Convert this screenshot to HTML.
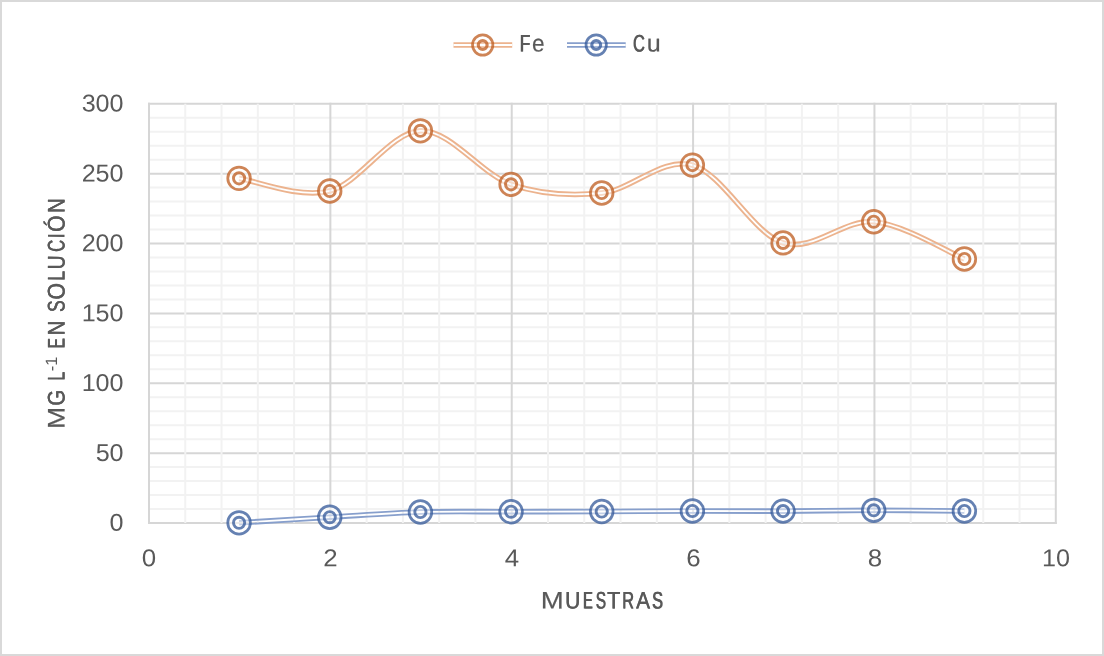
<!DOCTYPE html>
<html lang="es"><head><meta charset="utf-8"><title>Fe / Cu en solución</title>
<style>
html,body{margin:0;padding:0;background:#fff;}
body{width:1104px;height:656px;overflow:hidden;font-family:"Liberation Sans",sans-serif;}
svg{display:block;}
</style></head><body>
<svg width="1104" height="656" viewBox="0 0 1104 656">
<rect x="0" y="0" width="1104" height="656" fill="#fff"/>
<rect x="1" y="1" width="1102" height="654" fill="none" stroke="#d9d9d9" stroke-width="2"/>
<path d="M149.00,509.03H1055.80M149.00,495.05H1055.80M149.00,481.08H1055.80M149.00,467.10H1055.80M149.00,439.16H1055.80M149.00,425.18H1055.80M149.00,411.21H1055.80M149.00,397.23H1055.80M149.00,369.29H1055.80M149.00,355.31H1055.80M149.00,341.34H1055.80M149.00,327.36H1055.80M149.00,299.42H1055.80M149.00,285.44H1055.80M149.00,271.47H1055.80M149.00,257.49H1055.80M149.00,229.55H1055.80M149.00,215.57H1055.80M149.00,201.60H1055.80M149.00,187.62H1055.80M149.00,159.68H1055.80M149.00,145.70H1055.80M149.00,131.73H1055.80M149.00,117.75H1055.80" stroke="#f2f2f2" stroke-width="2" fill="none"/>
<path d="M148.00,523.00H1056.80M148.00,453.13H1056.80M148.00,383.26H1056.80M148.00,313.39H1056.80M148.00,243.52H1056.80M148.00,173.65H1056.80M148.00,103.78H1056.80" stroke="#d6d6d6" stroke-width="2" fill="none"/>
<path d="M185.27,103.78V523.00M221.54,103.78V523.00M257.82,103.78V523.00M294.09,103.78V523.00M366.63,103.78V523.00M402.90,103.78V523.00M439.18,103.78V523.00M475.45,103.78V523.00M547.99,103.78V523.00M584.26,103.78V523.00M620.54,103.78V523.00M656.81,103.78V523.00M729.35,103.78V523.00M765.62,103.78V523.00M801.90,103.78V523.00M838.17,103.78V523.00M910.71,103.78V523.00M946.98,103.78V523.00M983.26,103.78V523.00M1019.53,103.78V523.00" stroke="#f2f2f2" stroke-width="2" fill="none"/>
<path d="M149.00,102.78V524.00M330.36,102.78V524.00M511.72,102.78V524.00M693.08,102.78V524.00M874.44,102.78V524.00M1055.80,102.78V524.00" stroke="#d6d6d6" stroke-width="2" fill="none"/>
<mask id="m1" maskUnits="userSpaceOnUse" x="0" y="0" width="1104" height="656"><rect x="0" y="0" width="1104" height="656" fill="#fff"/><path d="M239.07,178.36 C254.18,180.46 299.52,198.91 329.74,190.98 C359.96,183.05 390.18,131.91 420.40,130.80 C450.62,129.70 480.84,173.98 511.07,184.35 C541.29,194.72 571.51,196.21 601.73,193.00 C631.95,189.79 662.17,156.78 692.39,165.10 C722.62,173.42 752.84,233.47 783.06,242.90 C813.28,252.33 843.50,219.02 873.72,221.70 C903.94,224.38 949.28,252.78 964.39,259.00" stroke="#000" stroke-width="1.8" fill="none" stroke-linejoin="round"/></mask><path d="M239.07,178.36 C254.18,180.46 299.52,198.91 329.74,190.98 C359.96,183.05 390.18,131.91 420.40,130.80 C450.62,129.70 480.84,173.98 511.07,184.35 C541.29,194.72 571.51,196.21 601.73,193.00 C631.95,189.79 662.17,156.78 692.39,165.10 C722.62,173.42 752.84,233.47 783.06,242.90 C813.28,252.33 843.50,219.02 873.72,221.70 C903.94,224.38 949.28,252.78 964.39,259.00" stroke="#ecb38e" stroke-width="5.6" fill="none" stroke-linecap="butt" stroke-linejoin="round" mask="url(#m1)"/>
<mask id="m2" maskUnits="userSpaceOnUse" x="0" y="0" width="1104" height="656"><rect x="0" y="0" width="1104" height="656" fill="#fff"/><path d="M239.07,522.80 C254.18,521.87 299.52,519.00 329.74,517.20 C359.96,515.40 390.18,512.92 420.40,512.00 C450.62,511.08 480.84,511.78 511.07,511.70 C541.29,511.62 571.51,511.62 601.73,511.50 C631.95,511.38 662.17,511.07 692.39,511.00 C722.62,510.93 752.84,511.22 783.06,511.10 C813.28,510.98 843.50,510.32 873.72,510.30 C903.94,510.28 949.28,510.88 964.39,511.00" stroke="#000" stroke-width="1.8" fill="none" stroke-linejoin="round"/></mask><path d="M239.07,522.80 C254.18,521.87 299.52,519.00 329.74,517.20 C359.96,515.40 390.18,512.92 420.40,512.00 C450.62,511.08 480.84,511.78 511.07,511.70 C541.29,511.62 571.51,511.62 601.73,511.50 C631.95,511.38 662.17,511.07 692.39,511.00 C722.62,510.93 752.84,511.22 783.06,511.10 C813.28,510.98 843.50,510.32 873.72,510.30 C903.94,510.28 949.28,510.88 964.39,511.00" stroke="#879fcc" stroke-width="5.6" fill="none" stroke-linecap="butt" stroke-linejoin="round" mask="url(#m2)"/>
<circle cx="239.07" cy="178.36" r="11.30" fill="#fff" fill-opacity="0.50" stroke="none"/><circle cx="239.07" cy="178.36" r="11.30" fill="none" stroke="#bd591b" stroke-opacity="0.74" stroke-width="2.75"/><circle cx="239.07" cy="178.36" r="5.60" fill="none" stroke="#bd591b" stroke-opacity="0.74" stroke-width="2.90"/>
<circle cx="329.74" cy="190.98" r="11.30" fill="#fff" fill-opacity="0.50" stroke="none"/><circle cx="329.74" cy="190.98" r="11.30" fill="none" stroke="#bd591b" stroke-opacity="0.74" stroke-width="2.75"/><circle cx="329.74" cy="190.98" r="5.60" fill="none" stroke="#bd591b" stroke-opacity="0.74" stroke-width="2.90"/>
<circle cx="420.40" cy="130.80" r="11.30" fill="#fff" fill-opacity="0.50" stroke="none"/><circle cx="420.40" cy="130.80" r="11.30" fill="none" stroke="#bd591b" stroke-opacity="0.74" stroke-width="2.75"/><circle cx="420.40" cy="130.80" r="5.60" fill="none" stroke="#bd591b" stroke-opacity="0.74" stroke-width="2.90"/>
<circle cx="511.07" cy="184.35" r="11.30" fill="#fff" fill-opacity="0.50" stroke="none"/><circle cx="511.07" cy="184.35" r="11.30" fill="none" stroke="#bd591b" stroke-opacity="0.74" stroke-width="2.75"/><circle cx="511.07" cy="184.35" r="5.60" fill="none" stroke="#bd591b" stroke-opacity="0.74" stroke-width="2.90"/>
<circle cx="601.73" cy="193.00" r="11.30" fill="#fff" fill-opacity="0.50" stroke="none"/><circle cx="601.73" cy="193.00" r="11.30" fill="none" stroke="#bd591b" stroke-opacity="0.74" stroke-width="2.75"/><circle cx="601.73" cy="193.00" r="5.60" fill="none" stroke="#bd591b" stroke-opacity="0.74" stroke-width="2.90"/>
<circle cx="692.39" cy="165.10" r="11.30" fill="#fff" fill-opacity="0.50" stroke="none"/><circle cx="692.39" cy="165.10" r="11.30" fill="none" stroke="#bd591b" stroke-opacity="0.74" stroke-width="2.75"/><circle cx="692.39" cy="165.10" r="5.60" fill="none" stroke="#bd591b" stroke-opacity="0.74" stroke-width="2.90"/>
<circle cx="783.06" cy="242.90" r="11.30" fill="#fff" fill-opacity="0.50" stroke="none"/><circle cx="783.06" cy="242.90" r="11.30" fill="none" stroke="#bd591b" stroke-opacity="0.74" stroke-width="2.75"/><circle cx="783.06" cy="242.90" r="5.60" fill="none" stroke="#bd591b" stroke-opacity="0.74" stroke-width="2.90"/>
<circle cx="873.72" cy="221.70" r="11.30" fill="#fff" fill-opacity="0.50" stroke="none"/><circle cx="873.72" cy="221.70" r="11.30" fill="none" stroke="#bd591b" stroke-opacity="0.74" stroke-width="2.75"/><circle cx="873.72" cy="221.70" r="5.60" fill="none" stroke="#bd591b" stroke-opacity="0.74" stroke-width="2.90"/>
<circle cx="964.39" cy="259.00" r="11.30" fill="#fff" fill-opacity="0.50" stroke="none"/><circle cx="964.39" cy="259.00" r="11.30" fill="none" stroke="#bd591b" stroke-opacity="0.74" stroke-width="2.75"/><circle cx="964.39" cy="259.00" r="5.60" fill="none" stroke="#bd591b" stroke-opacity="0.74" stroke-width="2.90"/>
<circle cx="239.07" cy="522.80" r="11.30" fill="#fff" fill-opacity="0.50" stroke="none"/><circle cx="239.07" cy="522.80" r="11.30" fill="none" stroke="#2f5597" stroke-opacity="0.74" stroke-width="2.75"/><circle cx="239.07" cy="522.80" r="5.60" fill="none" stroke="#2f5597" stroke-opacity="0.74" stroke-width="2.90"/>
<circle cx="329.74" cy="517.20" r="11.30" fill="#fff" fill-opacity="0.50" stroke="none"/><circle cx="329.74" cy="517.20" r="11.30" fill="none" stroke="#2f5597" stroke-opacity="0.74" stroke-width="2.75"/><circle cx="329.74" cy="517.20" r="5.60" fill="none" stroke="#2f5597" stroke-opacity="0.74" stroke-width="2.90"/>
<circle cx="420.40" cy="512.00" r="11.30" fill="#fff" fill-opacity="0.50" stroke="none"/><circle cx="420.40" cy="512.00" r="11.30" fill="none" stroke="#2f5597" stroke-opacity="0.74" stroke-width="2.75"/><circle cx="420.40" cy="512.00" r="5.60" fill="none" stroke="#2f5597" stroke-opacity="0.74" stroke-width="2.90"/>
<circle cx="511.07" cy="511.70" r="11.30" fill="#fff" fill-opacity="0.50" stroke="none"/><circle cx="511.07" cy="511.70" r="11.30" fill="none" stroke="#2f5597" stroke-opacity="0.74" stroke-width="2.75"/><circle cx="511.07" cy="511.70" r="5.60" fill="none" stroke="#2f5597" stroke-opacity="0.74" stroke-width="2.90"/>
<circle cx="601.73" cy="511.50" r="11.30" fill="#fff" fill-opacity="0.50" stroke="none"/><circle cx="601.73" cy="511.50" r="11.30" fill="none" stroke="#2f5597" stroke-opacity="0.74" stroke-width="2.75"/><circle cx="601.73" cy="511.50" r="5.60" fill="none" stroke="#2f5597" stroke-opacity="0.74" stroke-width="2.90"/>
<circle cx="692.39" cy="511.00" r="11.30" fill="#fff" fill-opacity="0.50" stroke="none"/><circle cx="692.39" cy="511.00" r="11.30" fill="none" stroke="#2f5597" stroke-opacity="0.74" stroke-width="2.75"/><circle cx="692.39" cy="511.00" r="5.60" fill="none" stroke="#2f5597" stroke-opacity="0.74" stroke-width="2.90"/>
<circle cx="783.06" cy="511.10" r="11.30" fill="#fff" fill-opacity="0.50" stroke="none"/><circle cx="783.06" cy="511.10" r="11.30" fill="none" stroke="#2f5597" stroke-opacity="0.74" stroke-width="2.75"/><circle cx="783.06" cy="511.10" r="5.60" fill="none" stroke="#2f5597" stroke-opacity="0.74" stroke-width="2.90"/>
<circle cx="873.72" cy="510.30" r="11.30" fill="#fff" fill-opacity="0.50" stroke="none"/><circle cx="873.72" cy="510.30" r="11.30" fill="none" stroke="#2f5597" stroke-opacity="0.74" stroke-width="2.75"/><circle cx="873.72" cy="510.30" r="5.60" fill="none" stroke="#2f5597" stroke-opacity="0.74" stroke-width="2.90"/>
<circle cx="964.39" cy="511.00" r="11.30" fill="#fff" fill-opacity="0.50" stroke="none"/><circle cx="964.39" cy="511.00" r="11.30" fill="none" stroke="#2f5597" stroke-opacity="0.74" stroke-width="2.75"/><circle cx="964.39" cy="511.00" r="5.60" fill="none" stroke="#2f5597" stroke-opacity="0.74" stroke-width="2.90"/>
<mask id="m3" maskUnits="userSpaceOnUse" x="0" y="0" width="1104" height="656"><rect x="0" y="0" width="1104" height="656" fill="#fff"/><path d="M453.5,45.00H512.2" stroke="#000" stroke-width="1.8" fill="none" stroke-linejoin="round"/></mask><path d="M453.5,45.00H512.2" stroke="#ecb38e" stroke-width="5.6" fill="none" stroke-linecap="butt" stroke-linejoin="round" mask="url(#m3)"/>
<circle cx="482.70" cy="45.00" r="10.15" fill="#fff" fill-opacity="0.30" stroke="none"/><circle cx="482.70" cy="45.00" r="10.15" fill="none" stroke="#bd591b" stroke-opacity="0.74" stroke-width="2.75"/><circle cx="482.70" cy="45.00" r="4.40" fill="none" stroke="#bd591b" stroke-opacity="0.74" stroke-width="3.20"/>
<mask id="m4" maskUnits="userSpaceOnUse" x="0" y="0" width="1104" height="656"><rect x="0" y="0" width="1104" height="656" fill="#fff"/><path d="M567.0,45.00H625.7" stroke="#000" stroke-width="1.8" fill="none" stroke-linejoin="round"/></mask><path d="M567.0,45.00H625.7" stroke="#879fcc" stroke-width="5.6" fill="none" stroke-linecap="butt" stroke-linejoin="round" mask="url(#m4)"/>
<circle cx="596.20" cy="45.00" r="10.15" fill="#fff" fill-opacity="0.30" stroke="none"/><circle cx="596.20" cy="45.00" r="10.15" fill="none" stroke="#2f5597" stroke-opacity="0.74" stroke-width="2.75"/><circle cx="596.20" cy="45.00" r="4.40" fill="none" stroke="#2f5597" stroke-opacity="0.74" stroke-width="3.20"/>
<g font-family="'Liberation Sans', sans-serif" fill="#595959" opacity="0.999">
<text transform="translate(519.57,51.60) rotate(0.1) scale(0.7236,1)" font-size="24.00" stroke="#595959" stroke-width="0.2" stroke-linejoin="round">F</text><text transform="translate(520.00,51.60) rotate(0.1) scale(0.7236,1)" font-size="24.00" stroke="#595959" stroke-width="0.2" stroke-linejoin="round">F</text><text transform="translate(531.94,51.60) rotate(0.1) scale(0.9397,1)" font-size="24.00" stroke="#595959" stroke-width="0.2" stroke-linejoin="round">e</text>
<text transform="translate(632.68,51.60) rotate(0.1) scale(0.6831,1)" font-size="24.00" stroke="#595959" stroke-width="0.2" stroke-linejoin="round">C</text><text transform="translate(633.21,51.60) rotate(0.1) scale(0.6831,1)" font-size="24.00" stroke="#595959" stroke-width="0.2" stroke-linejoin="round">C</text><text transform="translate(646.76,51.60) rotate(0.1) scale(1.0490,1)" font-size="24.00" stroke="#595959" stroke-width="0.2" stroke-linejoin="round">u</text>
<text transform="translate(109.59,530.75) rotate(0.1) scale(1.0300,1)" font-size="24.40">0</text>
<text transform="translate(95.65,460.88) rotate(0.1) scale(1.0300,1)" font-size="24.40">50</text>
<text transform="translate(81.63,391.01) rotate(0.1) scale(1.0300,1)" font-size="24.40">100</text>
<text transform="translate(81.63,321.14) rotate(0.1) scale(1.0300,1)" font-size="24.40">150</text>
<text transform="translate(81.63,251.27) rotate(0.1) scale(1.0300,1)" font-size="24.40">200</text>
<text transform="translate(81.63,181.40) rotate(0.1) scale(1.0300,1)" font-size="24.40">250</text>
<text transform="translate(81.63,111.53) rotate(0.1) scale(1.0300,1)" font-size="24.40">300</text>
<text transform="translate(141.74,566.30) rotate(0.1) scale(1.0600,1)" font-size="24.40">0</text>
<text transform="translate(323.28,566.30) rotate(0.1) scale(1.0600,1)" font-size="24.40">2</text>
<text transform="translate(504.86,566.30) rotate(0.1) scale(1.0600,1)" font-size="24.40">4</text>
<text transform="translate(686.21,566.30) rotate(0.1) scale(1.0600,1)" font-size="24.40">6</text>
<text transform="translate(867.81,566.30) rotate(0.1) scale(1.0600,1)" font-size="24.40">8</text>
<text transform="translate(1042.08,566.30) rotate(0.1) scale(1.0300,1)" font-size="24.40">10</text>
<text transform="translate(540.73,608.50) rotate(0.1) scale(1.1486,1)" font-size="24.00" stroke="#595959" stroke-width="0.2" stroke-linejoin="round">M</text><text transform="translate(565.07,608.50) rotate(0.1) scale(0.8777,1)" font-size="24.00" stroke="#595959" stroke-width="0.2" stroke-linejoin="round">U</text><text transform="translate(565.21,608.50) rotate(0.1) scale(0.8777,1)" font-size="24.00" stroke="#595959" stroke-width="0.2" stroke-linejoin="round">U</text><text transform="translate(582.81,608.50) rotate(0.1) scale(0.6008,1)" font-size="24.00" stroke="#595959" stroke-width="0.2" stroke-linejoin="round">E</text><text transform="translate(583.49,608.50) rotate(0.1) scale(0.6008,1)" font-size="24.00" stroke="#595959" stroke-width="0.2" stroke-linejoin="round">E</text><text transform="translate(595.50,608.50) rotate(0.1) scale(0.6451,1)" font-size="24.00" stroke="#595959" stroke-width="0.2" stroke-linejoin="round">S</text><text transform="translate(596.10,608.50) rotate(0.1) scale(0.6451,1)" font-size="24.00" stroke="#595959" stroke-width="0.2" stroke-linejoin="round">S</text><text transform="translate(607.11,608.50) rotate(0.1) scale(0.8994,1)" font-size="24.00" stroke="#595959" stroke-width="0.2" stroke-linejoin="round">T</text><text transform="translate(607.22,608.50) rotate(0.1) scale(0.8994,1)" font-size="24.00" stroke="#595959" stroke-width="0.2" stroke-linejoin="round">T</text><text transform="translate(622.05,608.50) rotate(0.1) scale(0.6799,1)" font-size="24.00" stroke="#595959" stroke-width="0.2" stroke-linejoin="round">R</text><text transform="translate(622.59,608.50) rotate(0.1) scale(0.6799,1)" font-size="24.00" stroke="#595959" stroke-width="0.2" stroke-linejoin="round">R</text><text transform="translate(636.05,608.50) rotate(0.1) scale(0.8702,1)" font-size="24.00" stroke="#595959" stroke-width="0.2" stroke-linejoin="round">A</text><text transform="translate(636.21,608.50) rotate(0.1) scale(0.8702,1)" font-size="24.00" stroke="#595959" stroke-width="0.2" stroke-linejoin="round">A</text><text transform="translate(651.87,608.50) rotate(0.1) scale(0.6789,1)" font-size="24.00" stroke="#595959" stroke-width="0.2" stroke-linejoin="round">S</text><text transform="translate(652.40,608.50) rotate(0.1) scale(0.6789,1)" font-size="24.00" stroke="#595959" stroke-width="0.2" stroke-linejoin="round">S</text>
<text transform="translate(64.60,429.09) rotate(-89.9) scale(1.1049,1)" font-size="24.00" stroke="#595959" stroke-width="0.2" stroke-linejoin="round">M</text><text transform="translate(64.60,405.81) rotate(-89.9) scale(0.8417,1)" font-size="24.00" stroke="#595959" stroke-width="0.2" stroke-linejoin="round">G</text><text transform="translate(64.60,405.59) rotate(-89.9) scale(0.8417,1)" font-size="24.00" stroke="#595959" stroke-width="0.2" stroke-linejoin="round">G</text><text transform="translate(64.60,380.80) rotate(-89.9) scale(0.6584,1)" font-size="24.00" stroke="#595959" stroke-width="0.2" stroke-linejoin="round">L</text><text transform="translate(64.60,380.26) rotate(-89.9) scale(0.6584,1)" font-size="24.00" stroke="#595959" stroke-width="0.2" stroke-linejoin="round">L</text><text transform="translate(64.60,348.64) rotate(-89.9) scale(0.6279,1)" font-size="24.00" stroke="#595959" stroke-width="0.2" stroke-linejoin="round">E</text><text transform="translate(64.60,348.02) rotate(-89.9) scale(0.6279,1)" font-size="24.00" stroke="#595959" stroke-width="0.2" stroke-linejoin="round">E</text><text transform="translate(64.60,335.39) rotate(-89.9) scale(0.8525,1)" font-size="24.00" stroke="#595959" stroke-width="0.2" stroke-linejoin="round">N</text><text transform="translate(64.60,335.19) rotate(-89.9) scale(0.8525,1)" font-size="24.00" stroke="#595959" stroke-width="0.2" stroke-linejoin="round">N</text><text transform="translate(64.60,312.08) rotate(-89.9) scale(0.7210,1)" font-size="24.00" stroke="#595959" stroke-width="0.2" stroke-linejoin="round">S</text><text transform="translate(64.60,311.63) rotate(-89.9) scale(0.7210,1)" font-size="24.00" stroke="#595959" stroke-width="0.2" stroke-linejoin="round">S</text><text transform="translate(64.60,299.71) rotate(-89.9) scale(0.8898,1)" font-size="24.00" stroke="#595959" stroke-width="0.2" stroke-linejoin="round">O</text><text transform="translate(64.60,299.59) rotate(-89.9) scale(0.8898,1)" font-size="24.00" stroke="#595959" stroke-width="0.2" stroke-linejoin="round">O</text><text transform="translate(64.60,280.94) rotate(-89.9) scale(0.7273,1)" font-size="24.00" stroke="#595959" stroke-width="0.2" stroke-linejoin="round">L</text><text transform="translate(64.60,280.52) rotate(-89.9) scale(0.7273,1)" font-size="24.00" stroke="#595959" stroke-width="0.2" stroke-linejoin="round">L</text><text transform="translate(64.60,269.41) rotate(-89.9) scale(0.8092,1)" font-size="24.00" stroke="#595959" stroke-width="0.2" stroke-linejoin="round">U</text><text transform="translate(64.60,269.13) rotate(-89.9) scale(0.8092,1)" font-size="24.00" stroke="#595959" stroke-width="0.2" stroke-linejoin="round">U</text><text transform="translate(64.60,252.02) rotate(-89.9) scale(0.6831,1)" font-size="24.00" stroke="#595959" stroke-width="0.2" stroke-linejoin="round">C</text><text transform="translate(64.60,251.49) rotate(-89.9) scale(0.6831,1)" font-size="24.00" stroke="#595959" stroke-width="0.2" stroke-linejoin="round">C</text><text transform="translate(64.60,232.01) rotate(-89.9) scale(0.8898,1)" font-size="24.00" stroke="#595959" stroke-width="0.2" stroke-linejoin="round">Ó</text><text transform="translate(64.60,231.89) rotate(-89.9) scale(0.8898,1)" font-size="24.00" stroke="#595959" stroke-width="0.2" stroke-linejoin="round">Ó</text><text transform="translate(64.60,213.09) rotate(-89.9) scale(0.8525,1)" font-size="24.00" stroke="#595959" stroke-width="0.2" stroke-linejoin="round">N</text><text transform="translate(64.60,212.89) rotate(-89.9) scale(0.8525,1)" font-size="24.00" stroke="#595959" stroke-width="0.2" stroke-linejoin="round">N</text>
<text transform="translate(64.60,238.95) rotate(-89.9) scale(0.9459,1)" font-size="24.00">I</text>
<text transform="translate(57.00,371.14) rotate(-89.9) scale(0.9971,1)" font-size="16.40">-1</text>
</g>
</svg>
</body></html>
